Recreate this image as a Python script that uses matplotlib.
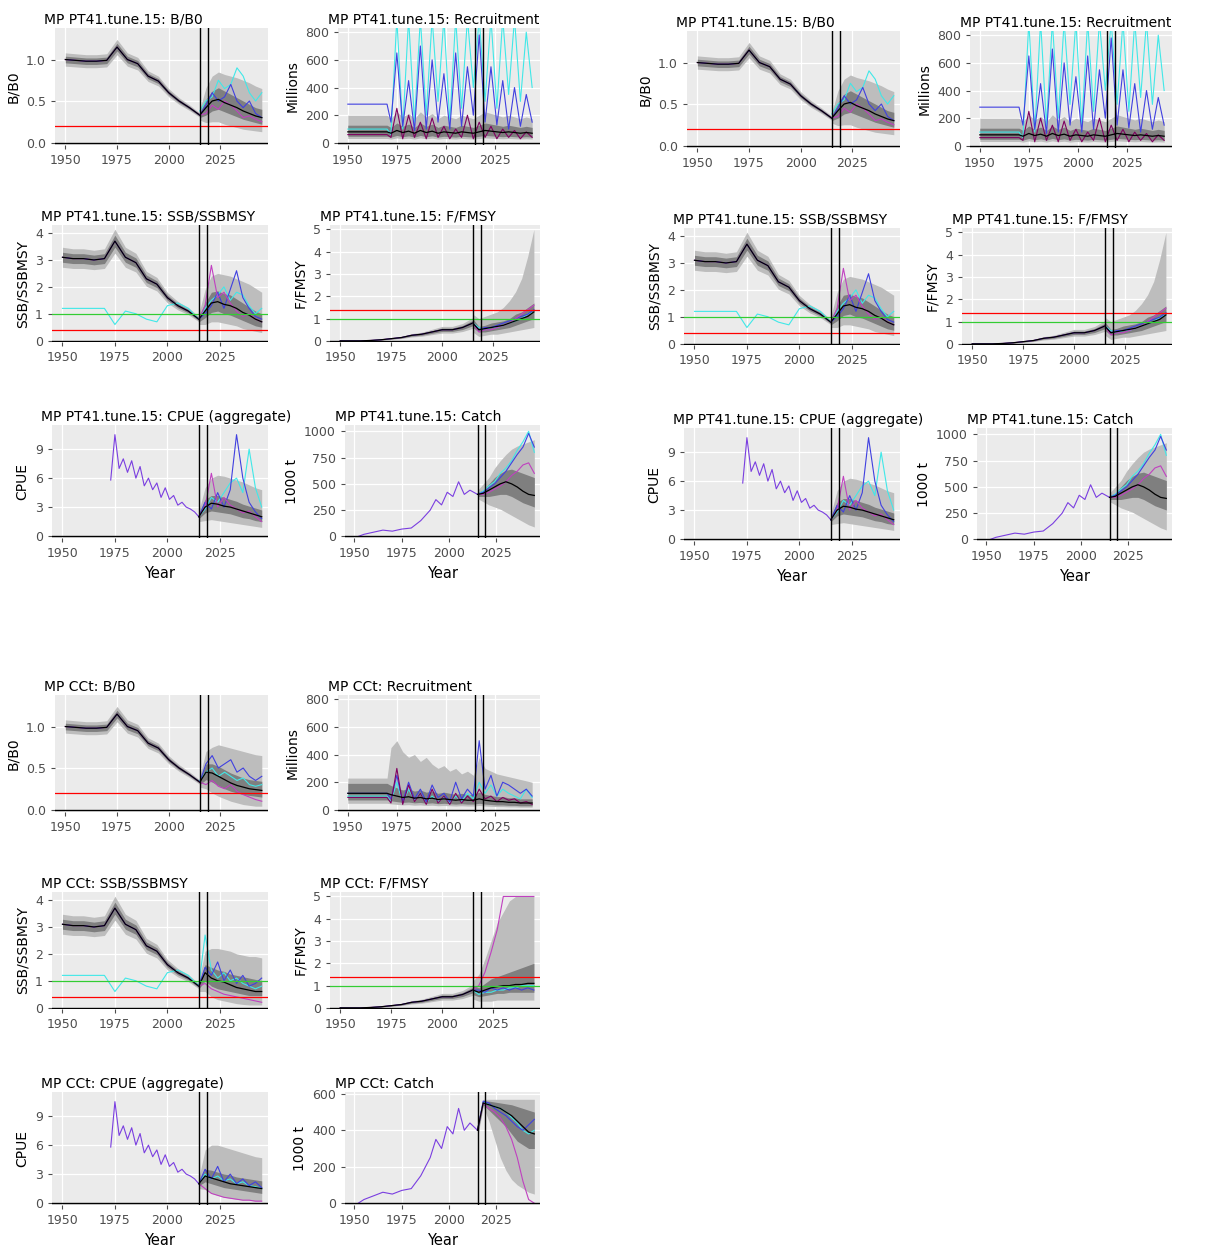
import matplotlib
matplotlib.use("Agg")
import matplotlib.pyplot as plt

W, H = 1220, 1252

# ---------------------------------------------------------------------------
# Data (approximate)
hist_years = [1950, 1955, 1960, 1965, 1970, 1975, 1980, 1985, 1990, 1995, 2000, 2005, 2010, 2015]
proj_years = [2015, 2018, 2021, 2024, 2027, 2030, 2033, 2036, 2039, 2042, 2045]
rec_years = [1950, 1970, 1972, 1975, 1978, 1981, 1984, 1987, 1990, 1993, 1996, 1999, 2002,
             2005, 2008, 2011, 2014, 2017, 2020, 2023, 2026, 2029, 2032, 2035, 2038, 2041, 2044]

# historical (shared by both MPs)
bb0_hist = [1.0, 0.99, 0.98, 0.98, 0.99, 1.15, 1.0, 0.95, 0.8, 0.74, 0.6, 0.5, 0.42, 0.33]
ssb_hist = [3.1, 3.05, 3.05, 3.0, 3.05, 3.7, 3.1, 2.9, 2.3, 2.1, 1.6, 1.3, 1.1, 0.8]
ssb_hist_cyan = [1.2, 1.2, 1.2, 1.2, 1.2, 0.6, 1.1, 1.0, 0.8, 0.7, 1.3, 1.4, 1.2, 0.8]
f_hist = [0.0, 0.0, 0.0, 0.02, 0.05, 0.1, 0.15, 0.25, 0.3, 0.4, 0.5, 0.5, 0.6, 0.8]
cpue_years = [1973, 1975, 1977, 1979, 1981, 1983, 1985, 1987, 1989, 1991, 1993, 1995, 1997, 1999,
              2001, 2003, 2005, 2007, 2009, 2011, 2013, 2015]
cpue_hist = [5.8, 10.5, 7.0, 8.0, 6.6, 7.8, 6.0, 7.2, 5.2, 6.0, 4.8, 5.5, 4.0, 5.0, 3.8, 4.2,
             3.2, 3.5, 3.0, 2.8, 2.5, 2.0]
catch_years = [1952, 1955, 1960, 1965, 1970, 1975, 1980, 1985, 1990, 1993, 1996, 1999, 2002,
               2005, 2008, 2011, 2015]
catch_hist = [0, 20, 40, 60, 50, 70, 80, 150, 250, 350, 300, 420, 380, 520, 400, 440, 400]

# PT41.tune.15 projections
pt_bb0 = dict(med=[0.33, 0.42, 0.5, 0.52, 0.48, 0.45, 0.42, 0.38, 0.35, 0.32, 0.3],
              q25=[0.3, 0.33, 0.38, 0.4, 0.37, 0.34, 0.31, 0.28, 0.26, 0.24, 0.22],
              q75=[0.36, 0.52, 0.62, 0.66, 0.62, 0.58, 0.54, 0.5, 0.46, 0.42, 0.4],
              q05=[0.27, 0.24, 0.25, 0.25, 0.22, 0.2, 0.18, 0.16, 0.15, 0.14, 0.13],
              q95=[0.4, 0.66, 0.8, 0.85, 0.82, 0.8, 0.78, 0.75, 0.72, 0.68, 0.65],
              blue=[0.33, 0.45, 0.6, 0.5, 0.55, 0.7, 0.5, 0.42, 0.5, 0.35, 0.3],
              cyan=[0.38, 0.5, 0.55, 0.75, 0.65, 0.7, 0.9, 0.8, 0.6, 0.5, 0.6],
              mag=[0.33, 0.35, 0.45, 0.4, 0.5, 0.45, 0.38, 0.3, 0.32, 0.28, 0.25])
pt_ssb = dict(med=[0.8, 1.1, 1.4, 1.45, 1.35, 1.3, 1.2, 1.05, 0.95, 0.8, 0.7],
              q25=[0.7, 0.85, 1.05, 1.1, 1.0, 0.95, 0.85, 0.75, 0.65, 0.55, 0.5],
              q75=[0.9, 1.4, 1.8, 1.85, 1.75, 1.7, 1.55, 1.4, 1.25, 1.1, 1.0],
              q05=[0.6, 0.6, 0.7, 0.7, 0.65, 0.6, 0.55, 0.45, 0.4, 0.35, 0.3],
              q95=[1.0, 1.9, 2.4, 2.5, 2.45, 2.4, 2.3, 2.2, 2.1, 1.95, 1.8],
              blue=[0.8, 1.0, 1.3, 1.8, 1.2, 1.9, 2.6, 1.6, 1.2, 0.9, 0.8],
              cyan=[0.8, 1.2, 1.5, 1.7, 2.0, 1.5, 1.8, 1.7, 1.3, 1.0, 1.2],
              mag=[0.8, 1.3, 2.8, 1.6, 1.8, 1.4, 1.1, 0.9, 1.0, 0.8, 0.7])
pt_f = dict(med=[0.8, 0.5, 0.55, 0.6, 0.65, 0.7, 0.8, 0.9, 1.0, 1.1, 1.3],
            q25=[0.6, 0.4, 0.4, 0.45, 0.5, 0.55, 0.6, 0.7, 0.8, 0.9, 1.0],
            q75=[1.0, 0.65, 0.7, 0.8, 0.85, 0.9, 1.0, 1.2, 1.3, 1.5, 1.7],
            q05=[0.4, 0.2, 0.25, 0.3, 0.3, 0.35, 0.4, 0.45, 0.5, 0.55, 0.6],
            q95=[1.2, 1.0, 1.1, 1.2, 1.3, 1.5, 1.8, 2.2, 2.8, 3.8, 5.0],
            blue=[0.8, 0.5, 0.6, 0.6, 0.7, 0.8, 0.9, 1.0, 1.1, 1.2, 1.4],
            cyan=[0.8, 0.6, 0.5, 0.6, 0.6, 0.7, 0.8, 0.9, 1.0, 1.2, 1.3],
            mag=[0.8, 0.4, 0.5, 0.5, 0.6, 0.7, 0.8, 1.0, 1.2, 1.4, 1.6])
pt_cpue = dict(med=[2.0, 3.0, 3.4, 3.3, 3.1, 3.0, 2.8, 2.6, 2.4, 2.2, 2.0],
               q25=[1.8, 2.4, 2.6, 2.5, 2.4, 2.3, 2.1, 1.9, 1.8, 1.6, 1.5],
               q75=[2.3, 3.8, 4.2, 4.2, 4.0, 3.8, 3.6, 3.3, 3.1, 2.9, 2.7],
               q05=[1.5, 1.6, 1.7, 1.6, 1.5, 1.4, 1.3, 1.2, 1.1, 1.0, 0.9],
               q95=[2.6, 5.0, 6.0, 6.3, 6.2, 6.0, 5.8, 5.6, 5.3, 5.0, 4.8],
               blue=[2.0, 3.5, 2.8, 4.5, 3.0, 4.8, 10.5, 6.0, 3.5, 2.5, 1.8],
               cyan=[2.0, 2.8, 4.0, 3.5, 4.5, 5.5, 6.0, 4.5, 9.0, 5.0, 3.0],
               mag=[2.0, 3.0, 6.5, 3.0, 4.0, 3.2, 2.8, 2.4, 2.6, 2.0, 1.5])
pt_catch = dict(med=[400, 410, 440, 470, 500, 520, 500, 470, 430, 400, 390],
                q25=[380, 380, 380, 390, 400, 400, 380, 350, 320, 300, 280],
                q75=[420, 440, 500, 560, 600, 630, 640, 620, 600, 580, 560],
                q05=[360, 330, 300, 280, 260, 230, 200, 170, 140, 110, 90],
                q95=[440, 500, 560, 650, 720, 780, 830, 860, 880, 900, 920],
                blue=[400, 420, 460, 500, 560, 620, 700, 780, 850, 980, 850],
                cyan=[400, 430, 480, 520, 600, 650, 720, 820, 900, 1000, 800],
                mag=[400, 400, 420, 450, 480, 520, 580, 620, 680, 700, 600])
pt_rec_med = [80, 80, 70, 90, 75, 85, 70, 90, 75, 85, 70, 80, 75, 70, 80, 75, 70, 80, 90,
              85, 80, 75, 80, 75, 70, 75, 70]
pt_rec_blue = [280, 280, 150, 650, 120, 450, 90, 700, 100, 600, 150, 500, 100, 650, 120, 550,
               200, 780, 150, 550, 130, 450, 100, 400, 120, 350, 150]
pt_rec_cyan = [100, 100, 60, 900, 100, 900, 150, 900, 200, 900, 300, 900, 150, 900, 250, 900,
               400, 900, 300, 900, 250, 900, 350, 900, 300, 800, 400]
pt_rec_mag = [60, 60, 40, 250, 30, 200, 40, 150, 30, 180, 40, 120, 30, 100, 40, 200, 30,
              150, 40, 120, 30, 100, 40, 90, 30, 80, 40]

# CCt projections
cc_bb0 = dict(med=[0.33, 0.45, 0.44, 0.4, 0.36, 0.32, 0.29, 0.27, 0.25, 0.24, 0.23],
              q25=[0.3, 0.36, 0.33, 0.29, 0.25, 0.22, 0.2, 0.18, 0.17, 0.16, 0.15],
              q75=[0.36, 0.55, 0.55, 0.52, 0.48, 0.44, 0.41, 0.38, 0.36, 0.35, 0.34],
              q05=[0.27, 0.25, 0.2, 0.16, 0.13, 0.1, 0.08, 0.06, 0.05, 0.04, 0.04],
              q95=[0.4, 0.7, 0.75, 0.78, 0.76, 0.74, 0.72, 0.7, 0.68, 0.66, 0.65],
              blue=[0.33, 0.55, 0.65, 0.5, 0.55, 0.6, 0.45, 0.5, 0.4, 0.35, 0.4],
              cyan=[0.35, 0.45, 0.5, 0.4, 0.45, 0.4, 0.35, 0.38, 0.3, 0.28, 0.3],
              mag=[0.33, 0.3, 0.35, 0.28, 0.25, 0.3, 0.22, 0.18, 0.15, 0.12, 0.1])
cc_ssb = dict(med=[0.8, 1.3, 1.1, 1.0, 0.95, 0.85, 0.75, 0.7, 0.65, 0.6, 0.6],
              q25=[0.7, 1.0, 0.8, 0.7, 0.65, 0.6, 0.55, 0.5, 0.45, 0.45, 0.45],
              q75=[0.9, 1.6, 1.5, 1.4, 1.35, 1.25, 1.2, 1.15, 1.1, 1.05, 1.0],
              q05=[0.6, 0.6, 0.4, 0.3, 0.25, 0.2, 0.15, 0.12, 0.1, 0.1, 0.1],
              q95=[1.0, 2.1, 2.2, 2.2, 2.15, 2.1, 2.0, 1.95, 1.9, 1.9, 1.85],
              blue=[0.8, 1.5, 1.2, 1.7, 1.0, 1.4, 0.9, 1.2, 0.8, 0.9, 1.1],
              cyan=[0.8, 2.7, 1.4, 1.1, 1.3, 1.0, 1.1, 0.9, 0.8, 0.7, 0.8],
              mag=[0.8, 0.9, 0.7, 0.6, 0.5, 0.45, 0.4, 0.35, 0.3, 0.25, 0.2])
cc_f = dict(med=[0.8, 0.7, 0.8, 0.9, 0.95, 1.0, 1.0, 1.05, 1.05, 1.1, 1.1],
            q25=[0.6, 0.5, 0.55, 0.6, 0.65, 0.65, 0.7, 0.7, 0.7, 0.7, 0.7],
            q75=[1.0, 0.9, 1.1, 1.3, 1.4, 1.5, 1.6, 1.7, 1.8, 1.9, 2.0],
            q05=[0.4, 0.3, 0.3, 0.3, 0.35, 0.35, 0.35, 0.35, 0.35, 0.35, 0.35],
            q95=[1.2, 1.5, 2.2, 3.0, 3.8, 4.3, 4.8, 5.0, 5.0, 5.0, 5.0],
            blue=[0.8, 0.8, 0.7, 0.9, 0.8, 0.9, 0.8, 0.9, 0.8, 0.9, 0.8],
            cyan=[0.8, 0.6, 0.7, 0.7, 0.8, 0.8, 0.9, 0.9, 1.0, 1.0, 1.0],
            mag=[0.8, 1.0, 1.6, 2.5, 3.5, 5.0, 5.0, 5.0, 5.0, 5.0, 5.0])
cc_cpue = dict(med=[2.0, 2.8, 2.6, 2.4, 2.2, 2.0, 1.9, 1.8, 1.7, 1.6, 1.5],
               q25=[1.8, 2.2, 2.0, 1.8, 1.6, 1.5, 1.4, 1.3, 1.2, 1.1, 1.0],
               q75=[2.3, 3.5, 3.4, 3.2, 3.0, 2.9, 2.7, 2.6, 2.5, 2.4, 2.3],
               q05=[1.5, 1.4, 1.0, 0.8, 0.6, 0.5, 0.4, 0.3, 0.3, 0.2, 0.2],
               q95=[2.6, 5.5, 6.0, 6.0, 5.8, 5.6, 5.4, 5.2, 5.0, 4.8, 4.7],
               blue=[2.0, 3.5, 2.5, 3.8, 2.2, 3.0, 2.0, 2.5, 1.8, 2.2, 1.6],
               cyan=[2.0, 3.0, 2.5, 2.8, 2.3, 2.5, 2.0, 2.2, 1.8, 1.7, 1.5],
               mag=[2.0, 1.5, 1.0, 0.8, 0.6, 0.5, 0.4, 0.3, 0.3, 0.2, 0.2])
cc_catch = dict(med=[400, 550, 540, 530, 520, 500, 480, 450, 420, 390, 380],
                q25=[380, 540, 510, 480, 450, 420, 380, 340, 320, 300, 300],
                q75=[420, 560, 560, 555, 550, 545, 540, 530, 520, 510, 500],
                q05=[360, 530, 450, 350, 250, 180, 130, 100, 80, 60, 50],
                q95=[440, 570, 570, 570, 570, 570, 570, 570, 570, 570, 570],
                blue=[400, 560, 550, 520, 500, 480, 450, 420, 400, 430, 460],
                cyan=[400, 555, 540, 530, 520, 500, 470, 440, 400, 380, 400],
                mag=[400, 550, 520, 500, 470, 420, 350, 250, 120, 20, 0])
cc_rec_med = [120, 120, 110, 100, 90, 95, 85, 90, 80, 85, 75, 80, 75, 70, 75, 70, 70, 80,
              70, 65, 60, 60, 55, 55, 50, 50, 50]
cc_rec_blue = [120, 120, 80, 250, 60, 200, 80, 150, 60, 180, 90, 120, 60, 200, 80, 150,
               100, 500, 150, 250, 100, 200, 180, 150, 120, 150, 100]
cc_rec_cyan = [100, 100, 60, 200, 50, 150, 70, 120, 50, 100, 60, 90, 50, 100, 60, 120,
               80, 200, 120, 180, 100, 150, 120, 100, 80, 150, 90]
cc_rec_mag = [90, 90, 50, 300, 40, 180, 60, 120, 40, 150, 50, 100, 40, 120, 50, 100, 60,
              150, 80, 100, 60, 90, 70, 80, 50, 60, 40]
cc_rec_hi = [230, 230, 450, 500, 420, 380, 400, 350, 380, 330, 300, 320, 280, 300, 260,
             280, 250, 380, 300, 280, 260, 250, 240, 230, 220, 210, 200]

# ---------------------------------------------------------------------------
BLUE, CYAN, MAG, PURP = "#4040e0", "#40e8e8", "#c040c0", "#7a3ee0"
BG = "#EBEBEB"


def make_ax(fig, x0, y0, x1, y1):
    ax = fig.add_axes([x0 / W, 1 - y1 / H, (x1 - x0) / W, (y1 - y0) / H])
    ax.set_facecolor(BG)
    ax.grid(True, color="white", lw=0.9)
    ax.set_axisbelow(True)
    for s in ax.spines.values():
        s.set_visible(False)
    ax.tick_params(colors="#4d4d4d", labelsize=9, length=3)
    ax.set_xlim(1945, 2048)
    ax.set_xticks([1950, 1975, 2000, 2025])
    return ax


def finish(ax, title, ylabel, xlab):
    ax.axvline(2015, color="black", lw=1)
    ax.axvline(2019, color="black", lw=1)
    ax.axhline(0, color="black", lw=1)
    ax.set_title(title, fontsize=10, loc="left", pad=3, x=-0.05)
    ax.set_ylabel(ylabel, fontsize=10)
    if xlab:
        ax.set_xlabel("Year", fontsize=10.5)


def proj_bands(ax, p):
    ax.fill_between(proj_years, p["q05"], p["q95"], color="#bdbdbd", lw=0)
    ax.fill_between(proj_years, p["q25"], p["q75"], color="#7f7f7f", lw=0)
    for k, c in (("cyan", CYAN), ("blue", BLUE), ("mag", MAG)):
        ax.plot(proj_years, p[k], color=c, lw=0.8)
    ax.plot(proj_years, p["med"], color="black", lw=0.9)


def hist_line(ax, vals, spread, cyan_vals=None):
    lo = [v * (1 - spread) for v in vals]
    hi = [v * (1 + spread) for v in vals]
    ax.fill_between(hist_years, [v * (1 - 2 * spread) for v in vals],
                    [v * (1 + 2 * spread) for v in vals], color="#bdbdbd", lw=0)
    ax.fill_between(hist_years, lo, hi, color="#7f7f7f", lw=0)
    ax.plot(hist_years, vals, color=MAG, lw=0.8)
    ax.plot(hist_years, vals, color=BLUE, lw=0.6)
    if cyan_vals is not None:
        ax.plot(hist_years, cyan_vals, color=CYAN, lw=0.8)
    ax.plot(hist_years, vals, color="black", lw=0.9)


def block(fig, dx, dy, mp, bb0, ssb, f, cpue, catch, rec, catch_max):
    # B/B0
    ax = make_ax(fig, 55 + dx, 28 + dy, 268 + dx, 145 + dy)
    hist_line(ax, bb0_hist, 0.04)
    proj_bands(ax, bb0)
    ax.axhline(0.2, color="red", lw=0.9)
    ax.set_ylim(-0.03, 1.38)
    ax.set_yticks([0, 0.5, 1.0])
    finish(ax, f"MP {mp}: B/B0", "B/B0", False)

    # Recruitment
    med, blue, cyan, mag, hi = rec
    ax = make_ax(fig, 338 + dx, 28 + dy, 540 + dx, 145 + dy)
    ax.fill_between(rec_years, [m * 0.4 for m in med], hi, color="#bdbdbd", lw=0)
    ax.fill_between(rec_years, [m * 0.6 for m in med], [m * 1.6 for m in med],
                    color="#7f7f7f", lw=0)
    ax.plot(rec_years, cyan, color=CYAN, lw=0.8)
    ax.plot(rec_years, blue, color=BLUE, lw=0.8)
    ax.plot(rec_years, mag, color="#800060", lw=0.8)
    ax.plot(rec_years, med, color="black", lw=0.9)
    ax.set_ylim(-15, 830)
    ax.set_yticks([0, 200, 400, 600, 800])
    finish(ax, f"MP {mp}: Recruitment", "Millions", False)

    # SSB/SSBMSY
    ax = make_ax(fig, 52 + dx, 225 + dy, 268 + dx, 342 + dy)
    hist_line(ax, ssb_hist, 0.06, ssb_hist_cyan)
    proj_bands(ax, ssb)
    ax.axhline(1, color="#33cc33", lw=0.9)
    ax.axhline(0.4, color="red", lw=0.9)
    ax.set_ylim(-0.05, 4.3)
    ax.set_yticks([0, 1, 2, 3, 4])
    finish(ax, f"MP {mp}: SSB/SSBMSY", "SSB/SSBMSY", False)

    # F/FMSY
    ax = make_ax(fig, 330 + dx, 225 + dy, 540 + dx, 342 + dy)
    hist_line(ax, f_hist, 0.15)
    proj_bands(ax, f)
    ax.axhline(1.4, color="red", lw=0.9)
    ax.axhline(1, color="#33cc33", lw=0.9)
    ax.set_ylim(-0.05, 5.2)
    ax.set_yticks([0, 1, 2, 3, 4, 5])
    finish(ax, f"MP {mp}: F/FMSY", "F/FMSY", False)

    # CPUE
    ax = make_ax(fig, 52 + dx, 425 + dy, 268 + dx, 538 + dy)
    ax.plot(cpue_years, cpue_hist, color=PURP, lw=0.8)
    proj_bands(ax, cpue)
    ax.set_ylim(-0.2, 11.5)
    ax.set_yticks([0, 3, 6, 9])
    finish(ax, f"MP {mp}: CPUE (aggregate)", "CPUE", True)

    # Catch
    ax = make_ax(fig, 345 + dx, 425 + dy, 540 + dx, 538 + dy)
    ax.plot(catch_years, catch_hist, color=PURP, lw=0.8)
    proj_bands(ax, catch)
    if catch_max > 700:
        ax.set_ylim(-15, 1060)
        ax.set_yticks([0, 250, 500, 750, 1000])
    else:
        ax.set_ylim(-10, 610)
        ax.set_yticks([0, 200, 400, 600])
    finish(ax, f"MP {mp}: Catch", "1000 t", True)


fig = plt.figure(figsize=(W / 100, H / 100), dpi=100)
pt_rec = (pt_rec_med, pt_rec_blue, pt_rec_cyan, pt_rec_mag, [m * 2.5 for m in pt_rec_med])
cc_rec = (cc_rec_med, cc_rec_blue, cc_rec_cyan, cc_rec_mag, cc_rec_hi)
block(fig, 0, 0, "PT41.tune.15", pt_bb0, pt_ssb, pt_f, pt_cpue, pt_catch, pt_rec, 1000)
block(fig, 632, 3, "PT41.tune.15", pt_bb0, pt_ssb, pt_f, pt_cpue, pt_catch, pt_rec, 1000)
block(fig, 0, 667, "CCt", cc_bb0, cc_ssb, cc_f, cc_cpue, cc_catch, cc_rec, 600)
fig.savefig("out.png", dpi=100)
